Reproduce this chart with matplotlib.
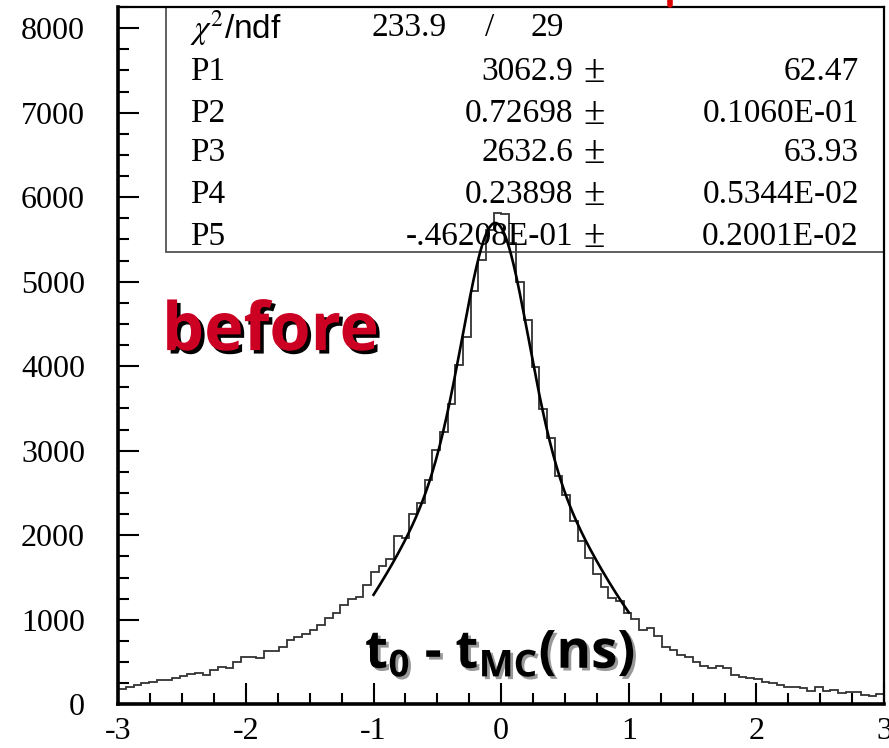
import numpy as np
import matplotlib.pyplot as plt
import matplotlib.patheffects as pe
from matplotlib.patches import Rectangle
from matplotlib.lines import Line2D
from matplotlib.ticker import MultipleLocator

# histogram: 100 bins from -3 to 3 (ns)
bin_lo, bin_hi, n_bins = -3.0, 3.0, 100
counts = [179, 206, 226, 250, 266, 286, 290, 317, 337, 361,
          373, 349, 401, 436, 428, 500, 560, 560, 548, 631,
          631, 674, 766, 793, 829, 881, 940, 1016, 1083, 1174,
          1242, 1269, 1412, 1571, 1638, 1718, 1988, 1968, 2250, 2385,
          2649, 3006, 3225, 3555, 4019, 4345, 4893, 5257, 5607, 5813,
          5797, 5460, 4992, 4547, 3988, 3495, 3155, 2702, 2472, 2174,
          1936, 1732, 1539, 1390, 1252, 1222, 1083, 1015, 876, 908,
          813, 674, 638, 587, 559, 495, 448, 428, 448, 428,
          349, 329, 309, 301, 262, 250, 230, 210, 210, 190,
          162, 202, 158, 170, 131, 143, 143, 111, 99, 119]

# fit results (double gaussian), as printed in the stats box
par_names = ['P1', 'P2', 'P3', 'P4', 'P5']
par_values = [3062.9, 0.72698, 2632.6, 0.23898, -0.046208]
par_text = ['3062.9', '0.72698', '2632.6', '0.23898', '-.46208E-01']
err_text = ['62.47', '0.1060E-01', '63.93', '0.5344E-02', '0.2001E-02']
chi2, ndf = '233.9', '29'
fit_lo, fit_hi = -1.0, 1.0

xtick_labels = ['-3', '-2', '-1', '0', '1', '2', '3']
ytick_labels = ['0', '1000', '2000', '3000', '4000', '5000', '6000', '7000', '8000']


def fit_func(x, p1, p2, p3, p4, p5):
    return (p1 * np.exp(-0.5 * ((x - p5) / p2) ** 2)
            + p3 * np.exp(-0.5 * ((x - p5) / p4) ** 2))


plt.rcParams['axes.unicode_minus'] = False
plt.rcParams['mathtext.fontset'] = 'custom'
plt.rcParams['mathtext.rm'] = 'Open Sans:bold'
plt.rcParams['mathtext.it'] = 'Open Sans:bold'
plt.rcParams['mathtext.bf'] = 'Open Sans:bold'

fig = plt.figure(figsize=(8.89, 7.48), dpi=100)
ax = fig.add_axes([0.1331, 0.0584, 0.8613, 0.9322])

edges = np.linspace(bin_lo, bin_hi, n_bins + 1)
ax.stairs(counts, edges, color='#333333', lw=1.3, baseline=None)

xf = np.linspace(fit_lo, fit_hi, 300)
ax.plot(xf, fit_func(xf, *par_values), color='black', lw=1.9)

ax.set_xlim(bin_lo, bin_hi)
ax.set_ylim(0, 8250)

serif = 'Liberation Serif'
fs = 24
ax.set_xticks(np.arange(-3, 4))
ax.set_xticklabels(xtick_labels, family=serif, fontsize=23)
ax.set_yticks(np.arange(0, 9000, 1000))
ax.set_yticklabels(ytick_labels, family=serif, fontsize=23)
ax.xaxis.set_minor_locator(MultipleLocator(0.25))
ax.yaxis.set_minor_locator(MultipleLocator(250))
ax.tick_params(which='both', direction='in', top=False, right=False, width=1.5)
ax.tick_params(which='major', length=15)
ax.tick_params(which='minor', length=8)
ax.tick_params(axis='y', pad=24)
ax.tick_params(axis='x', pad=9)
for side in ['left', 'bottom']:
    ax.spines[side].set_linewidth(2.6)
for side in ['top', 'right']:
    ax.spines[side].set_linewidth(1.6)

# stats box
ax.add_patch(Rectangle((0.0623, 0.6486), 0.9377, 0.3514, transform=ax.transAxes,
                       fill=False, ec='#444444', lw=1.2, clip_on=False))
row_y = [0.970, 0.9067, 0.8465, 0.7906, 0.7304, 0.6701]
ax.text(0.0936, row_y[0], r'$\chi^2$/ndf', transform=ax.transAxes, va='center',
        family='Liberation Sans', fontsize=fs, math_fontfamily='stix')
ax.text(0.330, row_y[0], chi2, transform=ax.transAxes, va='center', family=serif, fontsize=fs)
ax.text(0.4855, row_y[0], '/', transform=ax.transAxes, va='center', ha='center',
        family=serif, fontsize=fs)
ax.text(0.5377, row_y[0], ndf, transform=ax.transAxes, va='center', family=serif, fontsize=fs)
for name, val, err, y in zip(par_names, par_text, err_text, row_y[1:]):
    ax.text(0.0936, y, name, transform=ax.transAxes, va='center', family=serif, fontsize=fs)
    ax.text(0.594, y, val, transform=ax.transAxes, va='center', ha='right',
            family=serif, fontsize=fs)
    ax.text(0.6075, y, '\u00b1', transform=ax.transAxes, va='center', family=serif,
            fontsize=fs + 4)
    ax.text(0.967, y, err, transform=ax.transAxes, va='center', ha='right',
            family=serif, fontsize=fs)

# annotations
ax.text(0.057, 0.508, 'before', transform=ax.transAxes, va='baseline', ha='left',
        color='#CC0022', family='Open Sans', weight='bold', fontsize=48,
        path_effects=[pe.withSimplePatchShadow(offset=(2.5, -2.5), shadow_rgbFace='black',
                                               alpha=1.0)])
ax.text(0.4985, 0.052, r'$\mathrm{t_0}$ - $\mathrm{t_{MC}}$(ns)', transform=ax.transAxes,
        va='baseline', ha='center', color='black', family='Open Sans', weight='bold',
        fontsize=38,
        path_effects=[pe.withSimplePatchShadow(offset=(2, -2), shadow_rgbFace='#999999',
                                               alpha=1.0)])

# red fragment from the cut-off title above
fig.add_artist(Line2D([0.7537, 0.7537], [0.993, 1.0], color='#DD0000', lw=4,
                      solid_capstyle='round'))

plt.savefig('out.png', dpi=100)
